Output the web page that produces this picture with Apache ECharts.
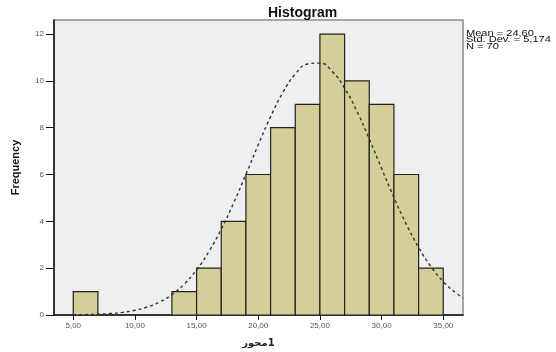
<!DOCTYPE html>
<html>
<head>
<meta charset="utf-8">
<script src="https://cdn.jsdelivr.net/npm/echarts@6/dist/echarts.min.js"></script>
<style>
  html, body { margin: 0; padding: 0; background: #fff; }
  #chart { width: 556px; height: 352px; }
</style>
</head>
<body>
<div id="chart"></div>
<script>
// histogram bins (width 2)
const binStart = [5, 13, 15, 17, 19, 21, 23, 25, 27, 29, 31, 33]
const binEnd = [7, 15, 17, 19, 21, 23, 25, 27, 29, 31, 33, 35]
const counts = [1, 1, 2, 4, 6, 8, 9, 12, 10, 9, 6, 2]

// normal curve
const curveX = [4, 5, 6, 7, 8, 9, 10, 11, 12, 13, 14, 15, 16, 17, 18, 19, 20, 21, 22, 23, 24, 25, 26, 27, 28, 29, 30, 31, 32, 33, 34, 35, 36, 36.6]
const curveY = [0.004, 0.008, 0.017, 0.033, 0.063, 0.114, 0.201, 0.341, 0.556, 0.874, 1.32, 1.93, 2.71, 3.67, 4.78, 6.01, 7.27, 8.47, 9.51, 10.29, 10.72, 10.76, 10.40, 9.69, 8.70, 7.52, 6.26, 5.02, 3.88, 2.89, 2.07, 1.43, 0.95, 0.73]

const xTicks = [5, 10, 15, 20, 25, 30, 35]
const yTicks = [0, 2, 4, 6, 8, 10, 12]
const statLines = ['Mean = 24,60', 'Std. Dev. = 5,174', 'N = 70']

const fmt = (v) => v.toFixed(2).replace('.', ',')

const chart = echarts.init(document.getElementById('chart'), null, { renderer: 'canvas' })

const barData = binStart.map((s, i) => [s, binEnd[i], counts[i]])
const curveData = curveX.map((x, i) => [x, curveY[i]])

const option = {
  animation: false,
  backgroundColor: '#fff',
  title: {
    text: 'Histogram',
    left: 263,
    top: 1,
    textStyle: { fontFamily: 'Liberation Sans', fontSize: 14, fontWeight: 'bold', color: '#111' },
  },
  grid: {
    left: 54,
    right: 93,
    top: 20,
    bottom: 37,
    outerBoundsMode: 'none',
    show: true,
    backgroundColor: '#efefef',
    borderColor: '#8c8c8c',
    borderWidth: 1.5,
  },
  xAxis: {
    type: 'value',
    min: 3.44,
    max: 36.6,
    // LRM keeps the digit on the right of the word, as in the picture
    name: 'محور\u200E1',
    nameLocation: 'middle',
    nameGap: 23,
    nameTextStyle: { fontFamily: 'DejaVu Sans', fontSize: 10, fontWeight: 'bold', color: '#222' },
    axisLine: { show: true, onZero: false, lineStyle: { color: '#111', width: 1.5 } },
    axisTick: { show: true, length: 5, customValues: xTicks, lineStyle: { color: '#111' } },
    axisLabel: {
      customValues: xTicks,
      formatter: (v) => fmt(v),
      fontFamily: 'Liberation Sans',
      fontSize: 8,
      color: '#555',
      margin: 7,
    },
    splitLine: { show: false },
  },
  yAxis: {
    type: 'value',
    min: 0,
    max: 12.6,
    name: 'Frequency',
    nameLocation: 'middle',
    nameGap: 33,
    nameTextStyle: { fontFamily: 'Liberation Sans', fontSize: 11, fontWeight: 'bold', color: '#111' },
    axisLine: { show: true, lineStyle: { color: '#111', width: 1.5 } },
    axisTick: { show: true, length: 8, customValues: yTicks, lineStyle: { color: '#111' } },
    axisLabel: {
      customValues: yTicks,
      fontFamily: 'Liberation Sans',
      fontSize: 8,
      color: '#555',
      margin: 10,
    },
    splitLine: { show: false },
  },
  series: [
    {
      type: 'custom',
      data: barData,
      encode: { x: [0, 1], y: 2 },
      renderItem: (params, api) => {
        const p0 = api.coord([api.value(0), api.value(2)])
        const p1 = api.coord([api.value(1), 0])
        return {
          type: 'rect',
          shape: { x: p0[0], y: p0[1], width: p1[0] - p0[0], height: p1[1] - p0[1] },
          style: { fill: '#d4cf98', stroke: '#222', lineWidth: 1.2 },
        }
      },
      z: 2,
    },
    {
      type: 'line',
      data: curveData,
      smooth: true,
      symbol: 'none',
      lineStyle: { color: '#333', width: 1.4, type: [3, 3] },
      z: 3,
    },
  ],
  graphic: [
    {
      type: 'text',
      x: 466,
      y: 30,
      scaleX: 1.3,
      style: {
        text: statLines.join('\n'),
        fontFamily: 'Liberation Sans',
        fontSize: 8.5,
        lineHeight: 6.5,
        fill: '#111',
      },
    },
  ],
}

chart.setOption(option)
</script>
</body>
</html>
